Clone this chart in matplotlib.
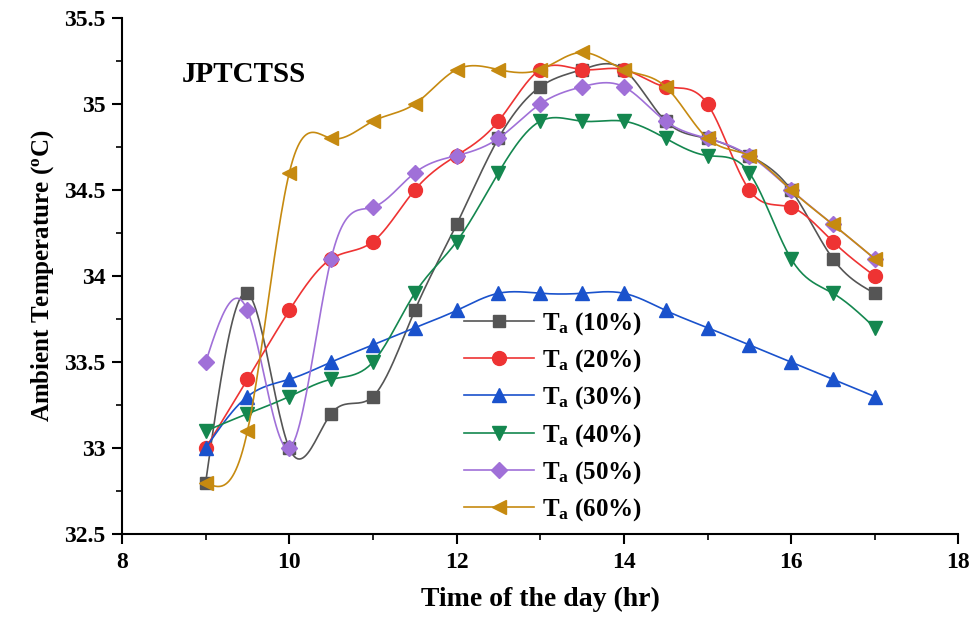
"""Ambient temperature vs time of day for the JPTCTSS runs (Origin-style spline plot)."""

import matplotlib

matplotlib.use("Agg")
import matplotlib.pyplot as plt
import numpy as np
from matplotlib.ticker import MultipleLocator

plt.rcParams["font.family"] = ["Liberation Serif", "DejaVu Serif"]
plt.rcParams["font.weight"] = "bold"
plt.rcParams["mathtext.fontset"] = "custom"
plt.rcParams["mathtext.rm"] = "Liberation Serif:bold"
plt.rcParams["mathtext.bf"] = "Liberation Serif:bold"
plt.rcParams["mathtext.it"] = "Liberation Serif:bold"

hours = [9, 9.5, 10, 10.5, 11, 11.5, 12, 12.5, 13, 13.5, 14, 14.5, 15, 15.5, 16, 16.5, 17]

ta_10 = [32.8, 33.9, 33.0, 33.2, 33.3, 33.8, 34.3, 34.8, 35.1, 35.2, 35.2, 34.9, 34.8, 34.7, 34.5, 34.1, 33.9]
ta_20 = [33.0, 33.4, 33.8, 34.1, 34.2, 34.5, 34.7, 34.9, 35.2, 35.2, 35.2, 35.1, 35.0, 34.5, 34.4, 34.2, 34.0]
ta_30 = [33.0, 33.3, 33.4, 33.5, 33.6, 33.7, 33.8, 33.9, 33.9, 33.9, 33.9, 33.8, 33.7, 33.6, 33.5, 33.4, 33.3]
ta_40 = [33.1, 33.2, 33.3, 33.4, 33.5, 33.9, 34.2, 34.6, 34.9, 34.9, 34.9, 34.8, 34.7, 34.6, 34.1, 33.9, 33.7]
ta_50 = [33.5, 33.8, 33.0, 34.1, 34.4, 34.6, 34.7, 34.8, 35.0, 35.1, 35.1, 34.9, 34.8, 34.7, 34.5, 34.3, 34.1]
ta_60 = [32.8, 33.1, 34.6, 34.8, 34.9, 35.0, 35.2, 35.2, 35.2, 35.3, 35.2, 35.1, 34.8, 34.7, 34.5, 34.3, 34.1]

labels = ["10%", "20%", "30%", "40%", "50%", "60%"]

SERIES = [
    (ta_10, "#555555", "s", 9),
    (ta_20, "#ee3333", "o", 10),
    (ta_30, "#1a52cc", "^", 10),
    (ta_40, "#14874f", "v", 10),
    (ta_50, "#a070d8", "D", 8),
    (ta_60, "#c68a10", "<", 10),
]


def _spline(x, y, n=400):
    """Natural cubic spline through the points, like Origin's 'Spline' connector."""
    x = np.asarray(x, float)
    y = np.asarray(y, float)
    h = np.diff(x)
    m = len(x)
    a = np.zeros((m, m))
    r = np.zeros(m)
    a[0, 0] = a[-1, -1] = 1.0
    for i in range(1, m - 1):
        a[i, i - 1] = h[i - 1]
        a[i, i] = 2 * (h[i - 1] + h[i])
        a[i, i + 1] = h[i]
        r[i] = 6 * ((y[i + 1] - y[i]) / h[i] - (y[i] - y[i - 1]) / h[i - 1])
    mm = np.linalg.solve(a, r)
    xs = np.linspace(x[0], x[-1], n)
    k = np.clip(np.searchsorted(x, xs) - 1, 0, m - 2)
    t0 = x[k + 1] - xs
    t1 = xs - x[k]
    hk = h[k]
    ys = (mm[k] * t0 ** 3 / (6 * hk) + mm[k + 1] * t1 ** 3 / (6 * hk)
          + (y[k] / hk - mm[k] * hk / 6) * t0
          + (y[k + 1] / hk - mm[k + 1] * hk / 6) * t1)
    return xs, ys


fig = plt.figure(figsize=(9.76, 6.19), dpi=100)
ax = fig.add_axes([0.125, 0.137, 0.857, 0.834])

for (vals, color, marker, ms), lab in zip(SERIES, labels):
    xs, ys = _spline(hours, vals)
    ax.plot(xs, ys, color=color, linewidth=1.2)
    ax.plot(hours, vals, linestyle="none", marker=marker, markersize=ms,
            color=color, markeredgecolor=color)
    # legend proxy: line + marker
    ax.plot([], [], color=color, linewidth=1.2, marker=marker, markersize=ms,
            label=r"T$_{\mathrm{a}}$ (" + lab + ")")

ax.text(8.72, 35.17, "JPTCTSS", fontsize=21, fontweight="bold", va="center")

ax.set_xlim(8, 18)
ax.set_ylim(32.5, 35.5)
ax.xaxis.set_major_locator(MultipleLocator(2))
ax.xaxis.set_minor_locator(MultipleLocator(1))
ax.yaxis.set_major_locator(MultipleLocator(0.5))
ax.yaxis.set_minor_locator(MultipleLocator(0.25))
ax.yaxis.set_major_formatter(plt.FuncFormatter(lambda v, _p: f"{v:g}"))
ax.tick_params(which="major", length=7, width=1.5, labelsize=17, direction="out")
ax.tick_params(which="minor", length=4, width=1.2, direction="out")
ax.tick_params(axis="y", pad=5)
ax.tick_params(axis="x", pad=6)
for side in ("top", "right"):
    ax.spines[side].set_visible(False)
for side in ("left", "bottom"):
    ax.spines[side].set_linewidth(1.5)

ax.set_xlabel("Time of the day (hr)", fontsize=20, fontweight="bold", labelpad=10)
ax.set_ylabel(r"Ambient Temperature ($^{\mathrm{o}}$C)", fontsize=18,
              fontweight="bold", labelpad=6)

ax.legend(loc="upper left", bbox_to_anchor=(0.382, 0.478), frameon=False,
          fontsize=18, handlelength=2.8, labelspacing=0.42, handletextpad=0.3)

fig.savefig("out.png", dpi=100)
plt.close(fig)
